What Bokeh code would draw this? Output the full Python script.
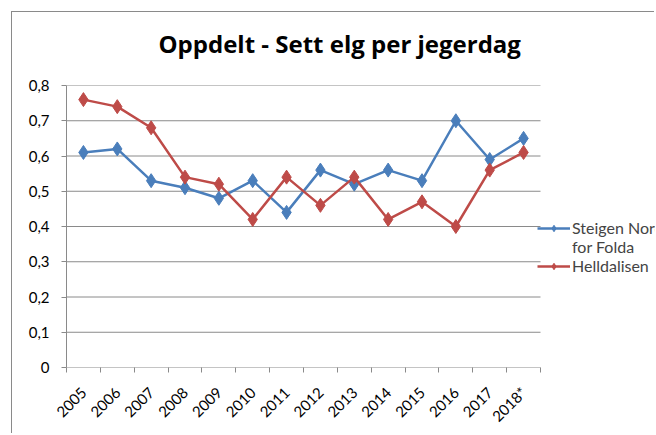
import numpy as np
from bokeh.plotting import figure
from bokeh.models import FixedTicker, Legend, LegendItem, Range1d, Title
from bokeh.embed import file_html
from bokeh.resources import INLINE

years = ["2005", "2006", "2007", "2008", "2009", "2010", "2011", "2012",
         "2013", "2014", "2015", "2016", "2017", "2018*"]
steigen = [0.61, 0.62, 0.53, 0.51, 0.48, 0.53, 0.44, 0.56, 0.52, 0.56, 0.53, 0.70, 0.59, 0.65]
helldalisen = [0.76, 0.74, 0.68, 0.54, 0.52, 0.42, 0.54, 0.46, 0.54, 0.42, 0.47, 0.40, 0.56, 0.61]
y_ticks = [0, 0.1, 0.2, 0.3, 0.4, 0.5, 0.6, 0.7, 0.8]
y_labels = ["0", "0,1", "0,2", "0,3", "0,4", "0,5", "0,6", "0,7", "0,8"]
legend_lines = ["Steigen Nord", "for Folda", "Helldalisen"]
title_text = "Oppdelt - Sett elg per jegerdag"

BLUE = "#4A7EBB"
RED = "#BE4B48"
GRID = "#8a8a8a"
FONT = "Lato"

# layout (pixels)
W, H = 643, 422
LEFT, TOP, BOTTOM = 54, 73, 67
AXIS_W = 474  # width of the category axis inside the frame
frame_w = W - LEFT

n = len(years)
x = [i + 0.5 for i in range(n)]

p = figure(width=W, height=H, output_backend="svg", toolbar_location=None, title=None,
           x_range=Range1d(0, n * frame_w / AXIS_W), y_range=Range1d(0, y_ticks[-1]),
           min_border_left=LEFT, min_border_right=0, min_border_top=TOP, min_border_bottom=BOTTOM,
           margin=(11, 0, 0, 11))
p.styles = {"border-left": "1px solid #8a8a8a", "border-top": "1px solid #8a8a8a"}
p.outline_line_color = None
p.background_fill_color = "white"
p.border_fill_color = "white"

# title (spacer first, so the real title sits higher above the frame)
p.add_layout(Title(text=" ", text_font_size="17px", standoff=0), "above")
p.add_layout(Title(text=title_text, align="left", offset=92, text_font="Open Sans",
                   text_font_size="24px", text_font_style="bold", text_color="black"), "above")

# gridlines (only across the category area)
p.xgrid.grid_line_color = None
p.ygrid.grid_line_color = None
p.segment(x0=[0] * len(y_ticks), x1=[n] * len(y_ticks), y0=y_ticks, y1=y_ticks,
          line_color=GRID, line_width=1)

# x axis
p.xaxis.ticker = FixedTicker(ticks=x, minor_ticks=list(range(n + 1)))
p.xaxis.major_label_overrides = {xv: yr for xv, yr in zip(x, years)}
p.xaxis.major_tick_out = 0
p.xaxis.major_tick_in = 0
p.xaxis.minor_tick_out = 5
p.xaxis.minor_tick_in = 0
p.xaxis.minor_tick_line_color = GRID
p.xaxis.axis_line_color = None
p.xaxis.major_label_orientation = np.pi / 4
p.xaxis.major_label_standoff = 17
p.xaxis.major_label_text_font = FONT
p.xaxis.major_label_text_font_size = "15px"
p.xaxis.major_label_text_color = "black"

# y axis
p.yaxis.ticker = FixedTicker(ticks=y_ticks, minor_ticks=[])
p.yaxis.major_label_overrides = {t: l for t, l in zip(y_ticks, y_labels)}
p.yaxis.major_tick_out = 5
p.yaxis.major_tick_in = 0
p.yaxis.major_tick_line_color = GRID
p.yaxis.axis_line_color = GRID
p.yaxis.major_label_standoff = 12
p.yaxis.major_label_text_font = FONT
p.yaxis.major_label_text_font_size = "15px"
p.yaxis.major_label_text_color = "black"

# series
l1 = p.line(x, steigen, line_color=BLUE, line_width=2.5)
s1 = p.scatter(x, steigen, marker="diamond", size=14, fill_color=BLUE, line_color=BLUE)
l2 = p.line(x, helldalisen, line_color=RED, line_width=2.5)
s2 = p.scatter(x, helldalisen, marker="diamond", size=14, fill_color=RED, line_color=RED)
blank = p.line([], [], line_alpha=0)

legend = Legend(items=[LegendItem(label=legend_lines[0], renderers=[l1, s1]),
                       LegendItem(label=legend_lines[1], renderers=[blank]),
                       LegendItem(label=legend_lines[2], renderers=[l2, s2])],
                location=(471, 92), padding=0, margin=0, spacing=-2,
                label_height=16, glyph_height=16, glyph_width=33, label_standoff=2,
                border_line_color=None, background_fill_alpha=0,
                label_text_font=FONT, label_text_font_size="16px")
p.add_layout(legend, "center")

open("out.html", "w").write(file_html(p, INLINE))
